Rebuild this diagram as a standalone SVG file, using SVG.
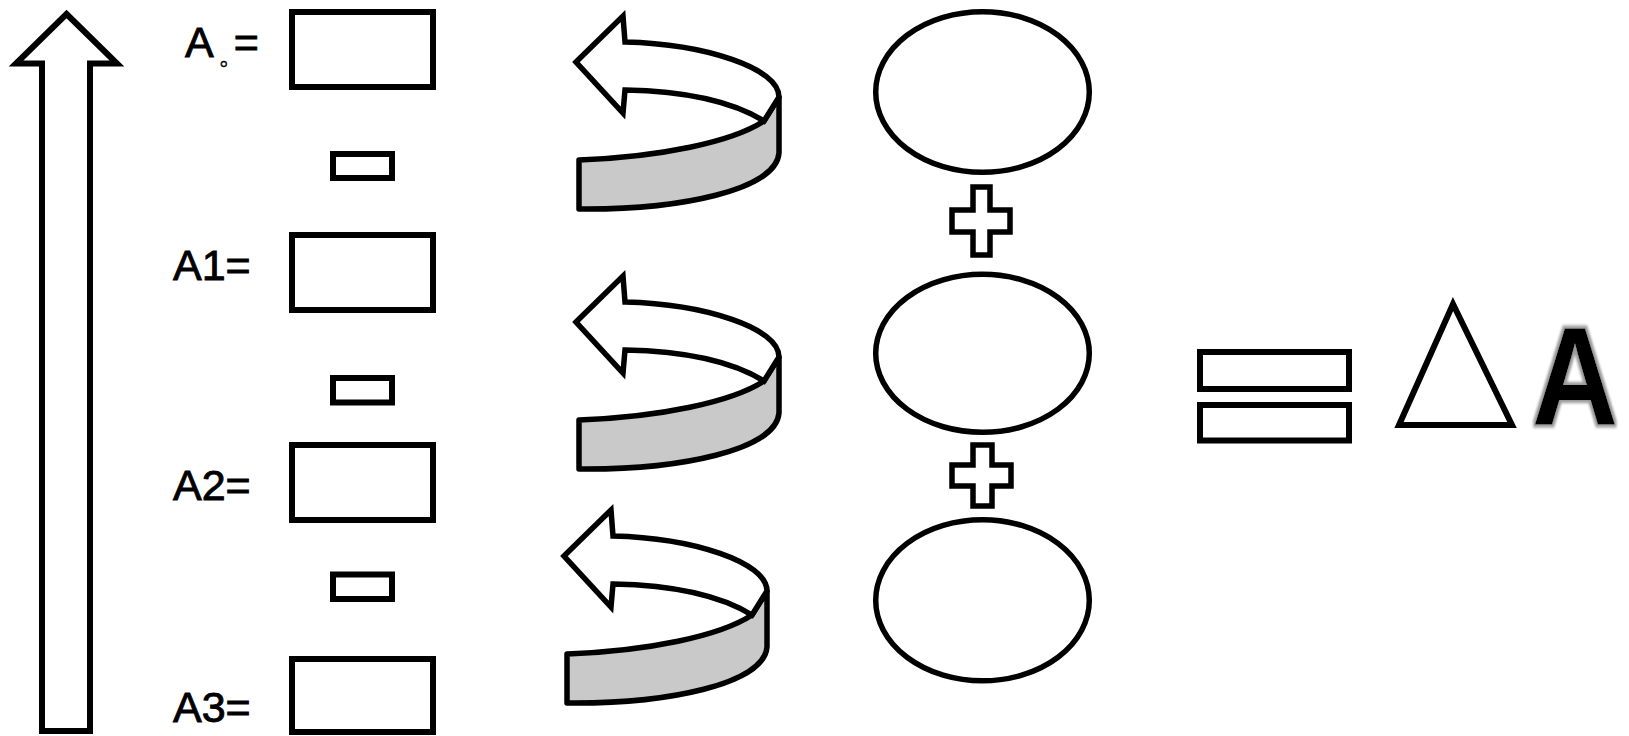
<svg xmlns="http://www.w3.org/2000/svg" width="1629" height="736" viewBox="0 0 1629 736">
<style>
.s{fill:#fff;stroke:#000;stroke-width:6;stroke-linejoin:miter}
.s5{fill:#fff;stroke:#000;stroke-width:5.5}
.band{fill:#c9c9c9;stroke:#000;stroke-width:5.5;stroke-linejoin:round}
.head{fill:#fff;stroke:#000;stroke-width:5.5;stroke-linejoin:miter}
.lbl{font-family:"Liberation Sans",Arial,sans-serif;font-size:43px;fill:#000;stroke:#000;stroke-width:0.9}
</style>
<defs>
<filter id="glow" x="-20%" y="-20%" width="140%" height="140%">
<feMorphology in="SourceAlpha" operator="dilate" radius="2.5" result="d"/>
<feGaussianBlur in="d" stdDeviation="1.5" result="b"/>
<feFlood flood-color="#9a9a9a"/>
<feComposite in2="b" operator="in" result="g"/>
<feMerge><feMergeNode in="g"/><feMergeNode in="SourceGraphic"/></feMerge>
</filter>
<g id="curl">
<path class="band" d="M779,97 L779,153 C776,190 680,210 579,209 L579,160 C660,157 732,142 764,121 Z"/>
<path class="head" d="M576,62 L623,16 L625,42 C705,44 779,68 779,97 L764,121 C730,100 680,91 625,90 L623,113 Z"/>
</g>
</defs>
<rect width="1629" height="736" fill="#fff"/>
<g id="bigArrow">
<path class="s" d="M66.5,14 L117,63.5 L90,63.5 L90,731 L42,731 L42,63.5 L16,63.5 Z"/>
</g>
<g id="rowA0">
<text class="lbl" x="185" y="57">A<tspan font-family="'Noto Sans CJK TC',sans-serif" font-size="20" stroke-width="0.4" dy="15">。</tspan><tspan x="233.7" dy="-15">=</tspan></text>
<rect class="s" x="292" y="12" width="141" height="75"/>
</g>
<g id="minus1"><rect class="s" x="333" y="154" width="59" height="24"/></g>
<g id="rowA1">
<text class="lbl" x="173" y="280">A1=</text>
<rect class="s" x="292" y="235" width="141" height="75"/>
</g>
<g id="minus2"><rect class="s" x="333" y="378" width="59" height="24.5"/></g>
<g id="rowA2">
<text class="lbl" x="173" y="500">A2=</text>
<rect class="s" x="292" y="445" width="141" height="75"/>
</g>
<g id="minus3"><rect class="s" x="333" y="574.5" width="59" height="24.5"/></g>
<g id="rowA3">
<text class="lbl" x="173" y="721.5">A3=</text>
<rect class="s" x="292" y="659" width="141" height="73"/>
</g>
<g id="curl1"><use href="#curl"/></g>
<g id="curl2"><use href="#curl" transform="translate(0,260)"/></g>
<g id="curl3"><use href="#curl" transform="translate(-12,494)"/></g>
<g id="ellipse1"><ellipse class="s5" cx="982.5" cy="92" rx="106.8" ry="80.3"/></g>
<g id="plus1"><path class="s5" d="M973,187 H990 V210 H1010 V232 H990 V255 H973 V232 H952 V210 H973 Z"/></g>
<g id="ellipse2"><ellipse class="s5" cx="982.5" cy="353.3" rx="106.8" ry="79"/></g>
<g id="plus2"><path class="s5" d="M973,445 H992 V465 H1011 V486 H992 V506 H973 V486 H952 V465 H973 Z"/></g>
<g id="ellipse3"><ellipse class="s5" cx="982.5" cy="600.3" rx="106.8" ry="80.5"/></g>
<g id="equals">
<rect class="s" x="1200" y="352" width="149" height="37"/>
<rect class="s" x="1200" y="405" width="149" height="35.5"/>
</g>
<g id="delta"><path class="s" d="M1453,304 L1512,425 L1399,425 Z"/></g>
<g id="bigA">
<text transform="translate(1532,425) scale(0.85,1)" x="0" y="0" font-family="'Liberation Sans',Arial,sans-serif" font-weight="bold" font-size="140" fill="#000" filter="url(#glow)">A</text>
</g>
</svg>
